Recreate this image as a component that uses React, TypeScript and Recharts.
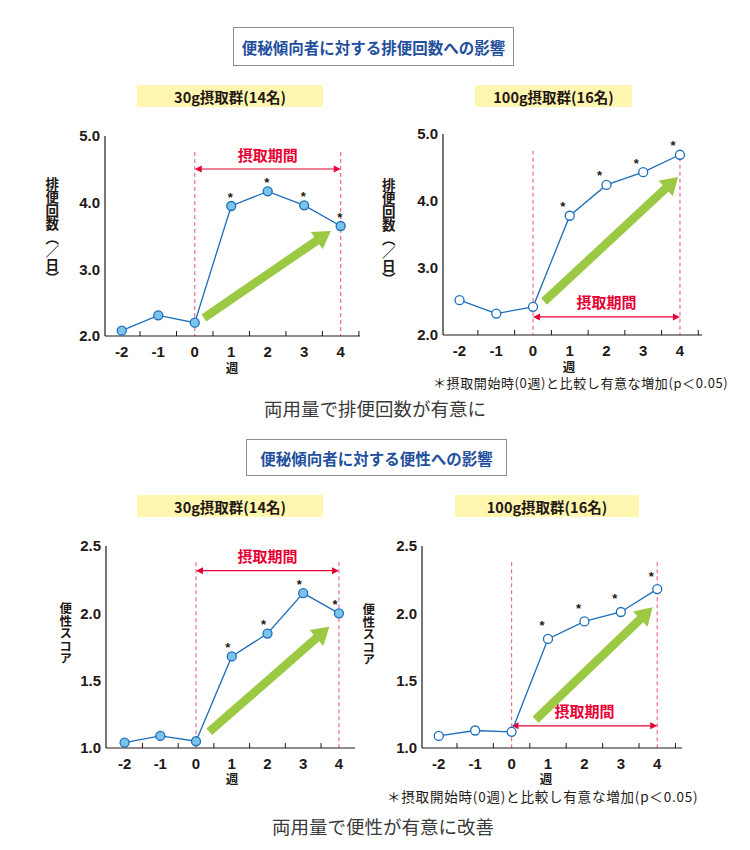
import React from 'react';
import { LineChart, Line, XAxis, YAxis, ReferenceLine } from 'recharts';

// weeks from start of intake (0 = start)
const weeks = [-2, -1, 0, 1, 2, 3, 4];
// bowel movements per day
const stool30g = [2.08, 2.31, 2.2, 3.95, 4.17, 3.96, 3.65];
const stool100g = [2.52, 2.32, 2.42, 3.78, 4.24, 4.43, 4.69];
// stool score
const score30g = [1.04, 1.09, 1.05, 1.68, 1.85, 2.15, 2.0];
const score100g = [1.09, 1.13, 1.12, 1.81, 1.94, 2.01, 2.18];
// * = significant vs week 0
const sigMarks = ['', '', '', '*', '*', '*', '*'];

const weekTicks = [-2, -1.5, -1, -0.5, 0, 0.5, 1, 1.5, 2, 2.5, 3, 3.5, 4, 4.5];
const stoolTicks = [2, 3, 4, 5];
const scoreTicks = [1, 1.5, 2, 2.5];

const JP = "'Noto Sans CJK JP', 'Noto Sans', sans-serif";
const NUM = "'Liberation Sans', Arial, sans-serif";
const INK = '#231815';
const BLUE = '#1d6dbb';
const LIGHT = '#7cc3ec';
const RED = '#e60033';
const PINK = '#ec6d92';
const GREEN = '#9cc944';

const ML = 50;
const MT = 20;
const MR = 10;
const MB = 40;

type Pt = { x: number; y: number };

function XTick(props: any) {
  const { x, y, payload } = props;
  const v = payload.value as number;
  if (Number.isInteger(v)) {
    return (
      <text x={x} y={y + 15} textAnchor="middle" dominantBaseline="central"
        fontFamily={NUM} fontWeight={700} fontSize={15} fill={INK}>
        {v}
      </text>
    );
  }
  // small upward minor tick between labels
  return <line x1={x} y1={y} x2={x} y2={y - 5} stroke={INK} strokeWidth={1} />;
}

function PeriodArrow(props: any) {
  const { x1, y1, x2, y2 } = props;
  const h = 7;
  const w = 3.5;
  return (
    <g>
      <line x1={x1 + h} y1={y1} x2={x2 - h} y2={y2} stroke={RED} strokeWidth={1.2} />
      <polygon points={`${x1},${y1} ${x1 + h},${y1 - w} ${x1 + h},${y1 + w}`} fill={RED} />
      <polygon points={`${x2},${y2} ${x2 - h},${y2 - w} ${x2 - h},${y2 + w}`} fill={RED} />
      <text x={(x1 + x2) / 2} y={y1 - 15} textAnchor="middle" dominantBaseline="central"
        fill={RED} fontFamily={JP} fontWeight={700} fontSize={15}>
        摂取期間
      </text>
    </g>
  );
}

function TrendArrow(props: any) {
  const { x1, y1, x2, y2 } = props;
  const dx = x2 - x1;
  const dy = y2 - y1;
  const len = Math.hypot(dx, dy) || 1;
  const ux = dx / len;
  const uy = dy / len;
  const px = -uy;
  const py = ux;
  const head = 17;
  const hw = 10.5;
  const sw = 4.3;
  const bx = x2 - ux * head;
  const by = y2 - uy * head;
  const pts = [
    [x1 + px * sw, y1 + py * sw],
    [bx + px * sw, by + py * sw],
    [bx + px * hw, by + py * hw],
    [x2, y2],
    [bx - px * hw, by - py * hw],
    [bx - px * sw, by - py * sw],
    [x1 - px * sw, y1 - py * sw],
  ];
  return <polygon points={pts.map((p) => p.join(',')).join(' ')} fill={GREEN} />;
}

type PanelProps = {
  plotLeft: number;
  plotTop: number;
  plotW: number;
  plotH: number;
  values: number[];
  xDomain: [number, number];
  yDomain: [number, number];
  yTicks: number[];
  filled: boolean;
  dashTop: number;
  periodY: number;
  trend: [Pt, Pt];
  star: [number, number];
};

function Panel(p: PanelProps) {
  const data = weeks.map((w, i) => ({ week: w, value: p.values[i], mark: sigMarks[i] }));
  const ticks = weekTicks.filter((t) => t >= p.xDomain[0] && t <= p.xDomain[1]);
  const ymin = p.yDomain[0];

  const renderDot = (d: any) => {
    const { cx, cy, payload, index } = d;
    return (
      <g key={`dot-${index}`}>
        <circle cx={cx} cy={cy} r={4.5} fill={p.filled ? LIGHT : '#ffffff'} stroke={BLUE} strokeWidth={1.3} />
        {payload.mark ? (
          <text x={cx + p.star[0]} y={cy + p.star[1]} textAnchor="middle" dominantBaseline="central"
            fontFamily={NUM} fontWeight={700} fontSize={13} fill={INK}>
            {payload.mark}
          </text>
        ) : null}
      </g>
    );
  };

  return (
    <div style={{ position: 'absolute', left: p.plotLeft - ML, top: p.plotTop - MT }}>
      <LineChart width={ML + p.plotW + MR} height={MT + p.plotH + MB} data={data}
        margin={{ top: MT, right: MR, bottom: 0, left: 0 }}>
        <XAxis type="number" dataKey="week" domain={p.xDomain} ticks={ticks} interval={0}
          allowDataOverflow height={MB} tickLine={false} tickSize={0} tickMargin={0}
          axisLine={{ stroke: INK, strokeWidth: 1.2 }} tick={<XTick />} />
        <YAxis type="number" domain={p.yDomain} ticks={p.yTicks} width={ML} allowDataOverflow
          tickFormatter={(v: number) => v.toFixed(1)} tickLine={false} tickSize={0} tickMargin={5}
          axisLine={{ stroke: INK, strokeWidth: 1.2 }}
          tick={{ fill: INK, fontSize: 15, fontWeight: 700, fontFamily: NUM }} />
        <ReferenceLine segment={[{ x: 0, y: p.dashTop }, { x: 0, y: ymin }]} stroke={PINK}
          strokeWidth={1.2} strokeDasharray="4 3" ifOverflow="visible" />
        <ReferenceLine segment={[{ x: 4, y: p.dashTop }, { x: 4, y: ymin }]} stroke={PINK}
          strokeWidth={1.2} strokeDasharray="4 3" ifOverflow="visible" />
        <ReferenceLine segment={[{ x: 0, y: p.periodY }, { x: 4, y: p.periodY }]}
          ifOverflow="visible" shape={(sp: any) => <PeriodArrow {...sp} />} />
        <ReferenceLine segment={p.trend} ifOverflow="visible" shape={(sp: any) => <TrendArrow {...sp} />} />
        <Line type="linear" dataKey="value" stroke={BLUE} strokeWidth={1.3} dot={renderDot}
          activeDot={false} isAnimationActive={false} />
      </LineChart>
    </div>
  );
}

function Abs({ left, top, width, height, style, children }: any) {
  return (
    <div style={{ position: 'absolute', left, top, width, height, boxSizing: 'border-box', ...style }}>
      {children}
    </div>
  );
}

function TitleBox({ left, top, width, height, text }: any) {
  return (
    <Abs left={left} top={top} width={width} height={height}
      style={{ border: '1px solid #8c8c8c', display: 'flex', alignItems: 'center', justifyContent: 'center',
        color: '#1f4f9d', fontWeight: 700, fontSize: 15.5, fontFamily: JP }}>
      {text}
    </Abs>
  );
}

function GroupBox({ left, top, width, text }: any) {
  return (
    <Abs left={left} top={top} width={width} height={22}
      style={{ background: '#fff6b0', display: 'flex', alignItems: 'center', justifyContent: 'center',
        color: INK, fontWeight: 700, fontSize: 14.5, fontFamily: JP }}>
      {text}
    </Abs>
  );
}

function VLabel({ cx, top, size, text }: any) {
  return (
    <div style={{ position: 'absolute', left: cx - size / 2, top, writingMode: 'vertical-rl',
      fontSize: size, lineHeight: 1, fontWeight: 700, fontFamily: JP, color: INK }}>
      {text}
    </div>
  );
}

function WeekLabel({ cx, cy }: any) {
  return (
    <div style={{ position: 'absolute', left: cx - 10, top: cy - 6, width: 20, textAlign: 'center',
      fontSize: 12.5, lineHeight: '12px', fontWeight: 700, fontFamily: JP, color: INK }}>
      週
    </div>
  );
}

function Note({ left, cy, size, spacing }: any) {
  return (
    <div style={{ position: 'absolute', left, top: cy - 8, whiteSpace: 'nowrap', fontSize: size,
      letterSpacing: spacing, lineHeight: '16px', fontFamily: JP, color: INK }}>
      ＊摂取開始時(0週)と比較し有意な増加(p＜0.05)
    </div>
  );
}

function Caption({ cx, cy, text }: any) {
  return (
    <div style={{ position: 'absolute', left: cx - 200, top: cy - 13, width: 400, textAlign: 'center',
      fontSize: 18.5, lineHeight: '26px', fontFamily: JP, color: '#3a3a3a' }}>
      {text}
    </div>
  );
}

export default function App() {
  return (
    <div style={{ position: 'absolute', left: 0, top: 0, width: 750, height: 850, background: '#ffffff',
      overflow: 'hidden', fontFamily: JP }}>
      <TitleBox left={233} top={27} width={281} height={39} text="便秘傾向者に対する排便回数への影響" />
      <GroupBox left={137} top={85} width={186} text="30g摂取群(14名)" />
      <GroupBox left={475} top={85} width={157} text="100g摂取群(16名)" />

      <VLabel cx={51.5} top={177} size={13.5} text="排便回数（／日）" />
      <VLabel cx={388} top={178} size={13.5} text="排便回数（／日）" />

      <Panel plotLeft={105} plotTop={136} plotW={255} plotH={200} values={stool30g}
        xDomain={[-2.46, 4.53]} yDomain={[2, 5]} yTicks={stoolTicks} filled
        dashTop={4.76} periodY={4.505} trend={[{ x: 0.25, y: 2.27 }, { x: 3.73, y: 3.575 }]} star={[-1, -9]} />
      <Panel plotLeft={443} plotTop={134} plotW={259} plotH={201} values={stool100g}
        xDomain={[-2.45, 4.6]} yDomain={[2, 5]} yTicks={stoolTicks} filled={false}
        dashTop={4.75} periodY={2.27} trend={[{ x: 0.3, y: 2.5 }, { x: 3.95, y: 4.36 }]} star={[-7, -9]} />

      <WeekLabel cx={232} cy={368} />
      <WeekLabel cx={569} cy={367} />
      <Note left={433} cy={383} size={13} spacing={0.6} />
      <Caption cx={375} cy={408} text="両用量で排便回数が有意に" />

      <TitleBox left={246} top={439} width={261} height={37} text="便秘傾向者に対する便性への影響" />
      <GroupBox left={137} top={495} width={186} text="30g摂取群(14名)" />
      <GroupBox left={455} top={495} width={184} text="100g摂取群(16名)" />

      <VLabel cx={65} top={602} size={12.5} text="便性スコア" />
      <VLabel cx={368} top={603} size={12.5} text="便性スコア" />

      <Panel plotLeft={106} plotTop={546} plotW={249} plotH={202} values={score30g}
        xDomain={[-2.52, 4.45]} yDomain={[1, 2.5]} yTicks={scoreTicks} filled
        dashTop={2.38} periodY={2.317} trend={[{ x: 0.37, y: 1.12 }, { x: 3.73, y: 1.9 }]} star={[-4, -9]} />
      <Panel plotLeft={422} plotTop={546} plotW={260} plotH={202} values={score100g}
        xDomain={[-2.46, 4.68]} yDomain={[1, 2.5]} yTicks={scoreTicks} filled={false}
        dashTop={2.38} periodY={1.165} trend={[{ x: 0.66, y: 1.21 }, { x: 3.87, y: 2.045 }]} star={[-6, -13]} />

      <WeekLabel cx={232} cy={779} />
      <WeekLabel cx={546} cy={779} />
      <Note left={387} cy={796} size={13.5} spacing={0.8} />
      <Caption cx={383} cy={826} text="両用量で便性が有意に改善" />
    </div>
  );
}
